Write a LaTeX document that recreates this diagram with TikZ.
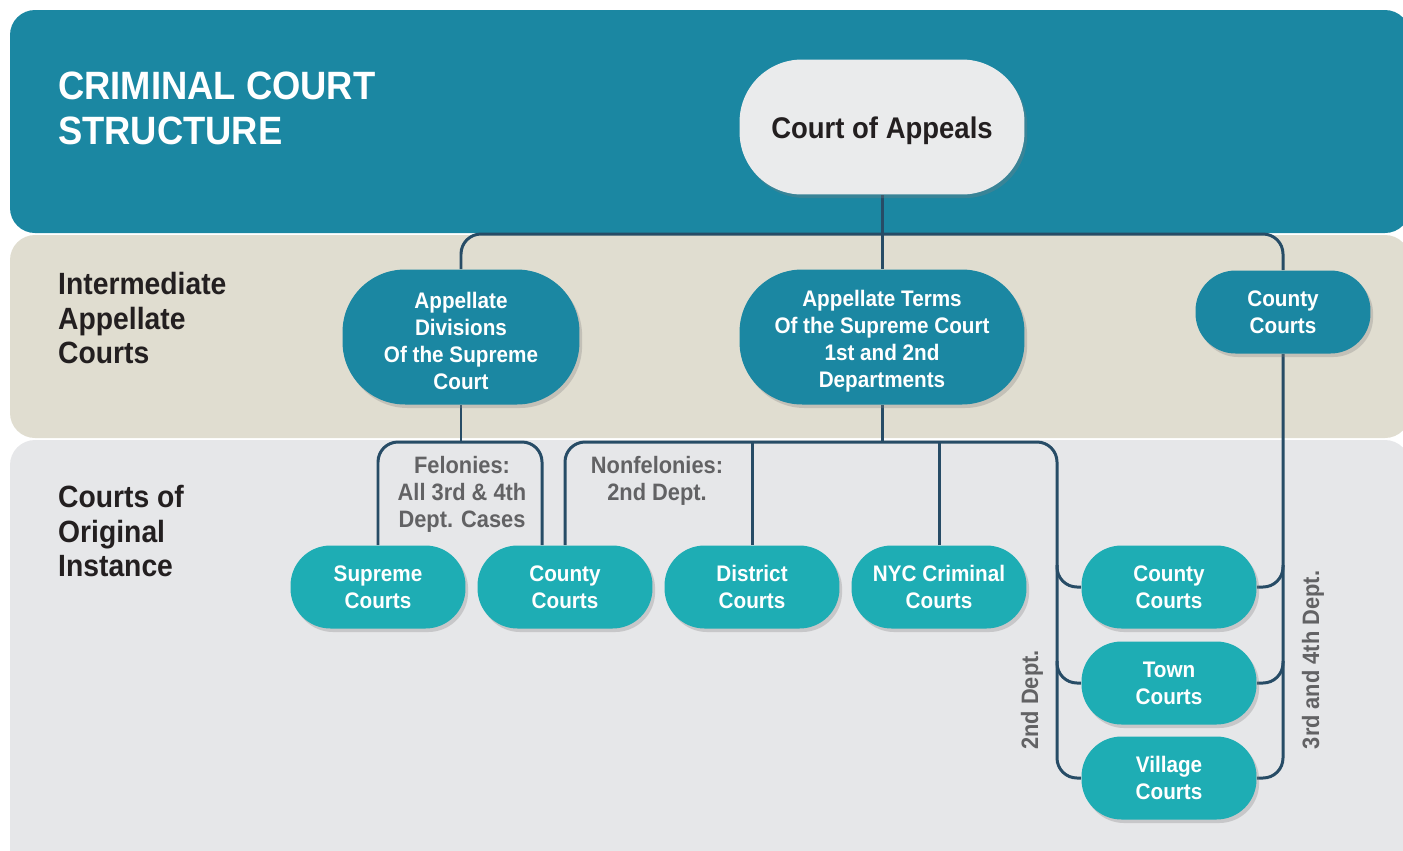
\documentclass[tikz,border=0pt]{standalone}
\usepackage{fontspec}
\setmainfont{Liberation Sans}[FakeStretch=0.92]
\usetikzlibrary{positioning,calc,shadows,backgrounds}
\definecolor{bandteal}{RGB}{27,135,162}
\definecolor{courtteal}{RGB}{30,173,180}
\definecolor{bandbeige}{RGB}{224,221,208}
\definecolor{bandgrey}{RGB}{230,231,233}
\definecolor{apexgrey}{RGB}{234,235,236}
\definecolor{linknavy}{RGB}{39,76,102}
\definecolor{inkdark}{RGB}{35,31,32}
\definecolor{notegrey}{RGB}{98,98,100}
\tikzset{
 court/.style={rounded corners=0.8cm,align=center,inner sep=0pt,text=white,
  drop shadow={shadow xshift=1.5pt,shadow yshift=-2pt,opacity=.3},
  font=\fontsize{12.8}{15.3}\selectfont\bfseries},
 apexcourt/.style={court,fill=apexgrey,text=inkdark,minimum width=5.7cm,
  minimum height=2.7cm,rounded corners=1.25cm,
  font=\fontsize{17}{20}\selectfont\bfseries,
  execute at begin node={\rule{0pt}{1em}}},
 midcourt/.style={court,fill=bandteal,minimum width=4.74cm,
  minimum height=2.7cm,rounded corners=1.25cm},
 smallcourt/.style={court,minimum width=3.5cm,minimum height=1.66cm},
 lowcourt/.style={smallcourt,fill=courtteal},
 link/.style={linknavy,line width=1.7pt,rounded corners=0.4cm},
 notetext/.style={notegrey,align=center,
  font=\fontsize{13.5}{15.3}\selectfont\bfseries},
 tierlabel/.style={inkdark,anchor=west,align=left,
  font=\fontsize{17.5}{19.6}\selectfont\bfseries},
}
\begin{document}
\begin{tikzpicture}[x=0.02cm,y=-0.02cm,line cap=round,line join=round]
 \useasboundingbox (0,0) rectangle (1403,850);
 % Bands: title, intermediate, original instance.
 \begin{scope}[on background layer]
  \fill[bandgrey,rounded corners=0.5cm] (10,440) rectangle (1410,880);
  \fill[bandbeige,rounded corners=0.5cm] (10,235) rectangle (1410,438);
  \fill[bandteal,rounded corners=0.5cm] (10,10) rectangle (1410,233);
 \end{scope}
 \node[anchor=west,align=left,white,
  font=\fontsize{22.5}{25.5}\selectfont\bfseries]
  (title) at (52,108) {CRIMINAL COURT\\STRUCTURE};
 \node[tierlabel] (midtier) at (52,318) {Intermediate\\Appellate\\Courts};
 \node[tierlabel] (lowtier) at (52,531) {Courts of\\Original\\Instance};
 % Courts.
 \node[apexcourt] (appeals) at (882,127) {Court of Appeals};
 \node[midcourt] (appdiv) at (461,337)
  {\rule{0pt}{1.1em}Appellate\\Divisions\\Of the Supreme\\Court};
 \node[midcourt,minimum width=5.7cm] (appterms) at (882,337)
  {\rule{0pt}{1.1em}Appellate Terms\\Of the Supreme Court\\1st and 2nd\\Departments};
 \node[smallcourt,fill=bandteal] (ctyapp) at (1283,312) {County\\Courts};
 \node[lowcourt] (supreme) at (378,587) {Supreme\\Courts};
 \node[lowcourt] (cntyfel) at (565,587) {County\\Courts};
 \node[lowcourt] (district) at (752,587) {District\\Courts};
 \node[lowcourt] (nyccrim) at (939,587) {NYC Criminal\\Courts};
 \node[lowcourt] (cntyorig) at (1169,587) {County\\Courts};
 \node[lowcourt] (town) at (1169,683) {Town\\Courts};
 \node[lowcourt] (village) at (1169,778) {Village\\Courts};
 % Notes on the branches.
 \node[notetext] (felnote) at (462,494) {Felonies:\\All 3rd \& 4th\\Dept. Cases};
 \node[notetext] (nonfelnote) at (657,481) {Nonfelonies:\\2nd Dept.};
 \node[notetext,rotate=90] (dept2) at (1032,700) {2nd Dept.};
 \node[notetext,rotate=90] (dept34) at (1313,660) {3rd and 4th Dept.};
 % Connectors behind the courts.
 \coordinate (tophub) at (882,234);
 \coordinate (felright) at (542,442);
 \coordinate (termright) at (1057,442);
 \begin{scope}[on background layer]
  \draw[link] (appeals.south) -- (appterms.north);
  \draw[link] (appdiv.north) |- (tophub) -| (ctyapp.north);
  \draw[link] (ctyapp.south) |- (village.east);
  \draw[link] (appdiv.south) -- (appdiv.south |- felright);
  \draw[link] (supreme.north) |- (felright) -- (felright |- cntyfel.north);
  \draw[link] (appterms.south) -- (appterms.south |- termright);
  \draw[link] (cntyfel.north) |- (termright) |- (village.west);
  \draw[link] (district.north) -- (district.north |- termright);
  \draw[link] (nyccrim.north) -- (nyccrim.north |- termright);
  \foreach \crt in {cntyorig,town}{
   \draw[link] ($(\crt.west -| termright)+(0,-22)$) |- (\crt.west);
   \draw[link] ($(\crt.east -| ctyapp.south)+(0,-22)$) |- (\crt.east);
  }
 \end{scope}
\end{tikzpicture}
\end{document}
